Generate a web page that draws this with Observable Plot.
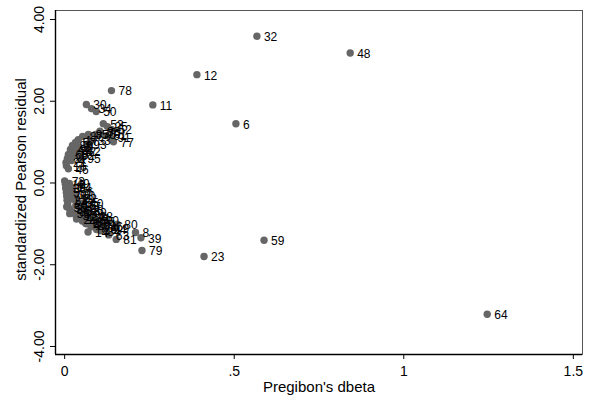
<!DOCTYPE html>
<html><head><meta charset="utf-8">
<script src="https://cdn.jsdelivr.net/npm/d3@7"></script>
<script src="https://cdn.jsdelivr.net/npm/@observablehq/plot@0.6"></script>
<style>
html,body{margin:0;padding:0;background:#fff;}
</style></head><body><div id="chart"></div>
<script>
// observation ids (point labels)
const ids = [
  32, 48, 12, 78, 11, 6, 59, 23, 64, 79, 39, 8, 80, 81, 63, 14, 9, 51, 26, 84, 86, 94, 90,
  30, 34, 50, 53, 25, 52, 77, 61, 70, 88, 76, 85, 87, 91, 17, 33, 57, 93, 89, 3, 44, 72, 42, 74, 66, 92, 27, 95, 4, 21, 16, 46,
  73, 19, 49, 1, 54, 36, 56, 5, 10, 60, 7, 62, 13, 22, 65, 40, 28, 15, 55, 67, 31, 68, 18, 35, 69, 58, 37, 24, 38, 41, 2, 29, 71, 43, 75, 20, 45, 47
];
// Pregibon's dbeta
const dbeta = [
  0.567, 0.842, 0.390, 0.138, 0.260, 0.505, 0.588, 0.411, 1.246, 0.228, 0.225, 0.209, 0.155, 0.152, 0.130, 0.069, 0.150, 0.094, 0.094, 0.106, 0.112, 0.122, 0.100,
  0.064, 0.079, 0.093, 0.114, 0.126, 0.138, 0.144, 0.123, 0.105, 0.104, 0.091, 0.070, 0.053, 0.135, 0.040, 0.076, 0.032, 0.064, 0.023, 0.040, 0.017, 0.046, 0.032, 0.023, 0.011, 0.029, 0.008, 0.046, 0.020, 0.004, 0.005, 0.011,
  0.000, 0.002, 0.014, 0.010, 0.020, 0.003, 0.024, 0.005, 0.017, 0.030, 0.006, 0.035, 0.025, 0.007, 0.040, 0.054, 0.009, 0.033, 0.006, 0.047, 0.014, 0.055, 0.045, 0.022, 0.064, 0.015, 0.032, 0.058, 0.082, 0.042, 0.035, 0.068, 0.076, 0.052, 0.087, 0.062, 0.066, 0.078
];
// standardized Pearson residual
const resid = [
  3.59, 3.18, 2.65, 2.26, 1.91, 1.45, -1.40, -1.80, -3.21, -1.65, -1.34, -1.21, -1.01, -1.38, -1.27, -1.20, -1.10, -1.00, -1.14, -1.17, -1.05, -1.12, -0.92,
  1.92, 1.82, 1.75, 1.45, 1.38, 1.31, 1.01, 1.16, 1.21, 1.27, 1.19, 1.19, 1.14, 1.11, 1.06, 1.04, 0.99, 0.94, 0.92, 0.89, 0.82, 0.79, 0.79, 0.77, 0.70, 0.68, 0.60, 0.60, 0.55, 0.50, 0.42, 0.35,
  0.05, -0.03, -0.01, -0.09, -0.10, -0.13, -0.19, -0.23, -0.27, -0.29, -0.32, -0.38, -0.40, -0.42, -0.47, -0.49, -0.52, -0.55, -0.58, -0.56, -0.63, -0.65, -0.66, -0.70, -0.72, -0.75, -0.78, -0.80, -0.80, -0.85, -0.88, -0.86, -0.87, -0.93, -0.94, -0.99, -1.00, -1.07
];
const xTicks = [0, 0.5, 1, 1.5];
const yTicks = [-4, -2, 0, 2, 4];
const xDomain = [-0.027, 1.527];
const yDomain = [-4.196, 4.22];
const xTitle = "Pregibon's dbeta";
const yTitle = "standardized Pearson residual";

const data = ids.map((id, i) => ({id: String(id), x: dbeta[i], y: resid[i]}));
const fmtX = d => String(d).replace(/^0\./, ".");
const fmtY = d => d.toFixed(2);

const chart = Plot.plot({
  width: 592, height: 397,
  marginLeft: 55, marginRight: 10, marginTop: 10, marginBottom: 43,
  style: {fontFamily: "'Liberation Sans', Arial, sans-serif", fontSize: "14px", background: "#fff", color: "#000"},
  x: {domain: xDomain},
  y: {domain: yDomain},
  marks: [
    Plot.frame({stroke: "#555", strokeWidth: 1}),
    Plot.axisX({ticks: xTicks, tickFormat: fmtX, tickSize: 5, tickPadding: 7, label: null, stroke: "#000"}),
    Plot.axisY({ticks: yTicks, tickFormat: fmtY, tickRotate: -90, tickSize: 5, tickPadding: 7, label: null, stroke: "#000"}),
    Plot.ruleX([xDomain[0]], {stroke: "#000", strokeWidth: 1.4}),
    Plot.ruleY([yDomain[0]], {stroke: "#000", strokeWidth: 1.4}),
    Plot.dot(data, {x: "x", y: "y", r: 3.7, fill: "#666"}),
    Plot.text(data, {x: "x", y: "y", text: "id", dx: 7, dy: 1, textAnchor: "start", fontSize: 12, fill: "#000"}),
    Plot.text([xTitle], {frameAnchor: "bottom", dy: 37, lineAnchor: "bottom", textAnchor: "middle", fontSize: 15, fill: "#000"}),
    Plot.text([yTitle], {frameAnchor: "left", rotate: -90, dx: -29.5, dy: -3, lineAnchor: "bottom", textAnchor: "middle", fontSize: 15, fill: "#000"})
  ]
});
document.getElementById("chart").appendChild(chart);
</script>
</body></html>
